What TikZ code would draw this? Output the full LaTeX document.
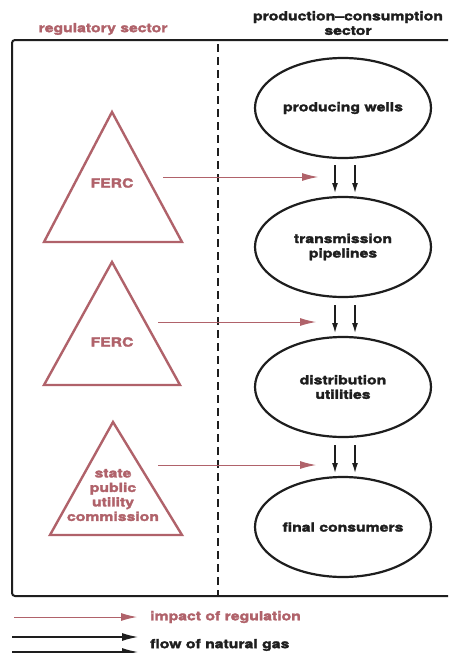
\documentclass[tikz,border=0pt]{standalone}
\usepackage{fontspec}
\newfontfamily\lbl[FakeStretch=1.26,FakeBold=2.2]{TeX Gyre Heros}
\usetikzlibrary{arrows.meta,shapes.geometric}
\definecolor{reg}{RGB}{176,98,106}
\definecolor{ink}{RGB}{30,30,30}
\tikzset{
  txt/.style={font=\lbl\bfseries\fontsize{12.5}{14.5}\selectfont, inner sep=0pt, align=center, text=ink},
  regtxt/.style={txt, text=reg},
  sectorbox/.style={ellipse, draw=ink, line width=2.2pt, minimum width=176pt, minimum height=100pt, inner sep=0pt},
  regtri/.style={draw=reg, line width=2.4pt, line join=miter},
  regarrow/.style={draw=reg, line width=1pt, -{Latex[length=16pt,width=8pt]}},
  gasarrow/.style={draw=ink, line width=1.3pt, -{Latex[length=10pt,width=6pt]}},
  keyarrow/.style={draw=ink, line width=1.3pt, -{Latex[length=16pt,width=8pt]}},
}
\begin{document}
\begin{tikzpicture}[x=1pt,y=-1pt]
\useasboundingbox (0,0) rectangle (448,653);
\fill[white] (0,0) rectangle (448,653);
% frame
\draw[ink, line width=2pt, rounded corners=3pt] (448,40) -- (12,40) -- (12,596) -- (448,596);
% divider
\draw[ink, line width=2pt, dash pattern=on 8pt off 5pt] (218,44) -- (218,596);
% headers
\node[regtxt] (hreg) at (103,29) {regulatory sector};
\node[txt] (hprod) at (348,23) {production–consumption\\sector};
% ellipses
\node[sectorbox] (wells) at (343,108) {};
\node[txt] at (wells) {producing wells};
\node[sectorbox] (pipes) at (343,247) {};
\node[txt] at (pipes) {transmission\\pipelines};
\node[sectorbox] (util) at (343,387) {};
\node[txt] at (util) {distribution\\utilities};
\node[sectorbox] (cons) at (343,527) {};
\node[txt] at (cons) {final consumers};
% triangles
\draw[regtri] (112,112) -- (182,242) -- (44,242) -- cycle;
\node[regtxt] (ferc1) at (112,183) {FERC};
\draw[regtri] (112,262) -- (180,385) -- (44,385) -- cycle;
\node[regtxt] (ferc2) at (112,342) {FERC};
\draw[regtri] (113,422) -- (182,535) -- (50,535) -- cycle;
\node[regtxt, text depth=0pt] (state) at (113,495) {state\\public\\utility\\commission};
% regulation arrows
\coordinate (r1s) at (163,177); \coordinate (r1e) at (318,177);
\coordinate (r2s) at (158,322); \coordinate (r2e) at (316,322);
\coordinate (r3s) at (158,465); \coordinate (r3e) at (316,465);
\draw[regarrow] (r1s) -- (r1e);
\draw[regarrow] (r2s) -- (r2e);
\draw[regarrow] (r3s) -- (r3e);
% gas arrows
\foreach \a/\b in {165/193,305/333,445/473}{
  \coordinate (gla) at (335,\a); \coordinate (glb) at (335,\b);
  \coordinate (gra) at (355,\a); \coordinate (grb) at (355,\b);
  \draw[gasarrow] (gla) -- (glb);
  \draw[gasarrow] (gra) -- (grb);
}
% legend
\coordinate (l1s) at (14,617); \coordinate (l1e) at (137,617);
\draw[regarrow] (l1s) -- (l1e);
\node[regtxt, anchor=west] (limp) at (150,617) {impact of regulation};
\coordinate (l2s) at (12,637); \coordinate (l2e) at (138,637);
\draw[keyarrow] (l2s) -- (l2e);
\coordinate (l3s) at (12,652); \coordinate (l3e) at (138,652);
\draw[keyarrow] (l3s) -- (l3e);
\node[txt, anchor=west] (lgas) at (150,645) {flow of natural gas};
\end{tikzpicture}
\end{document}
